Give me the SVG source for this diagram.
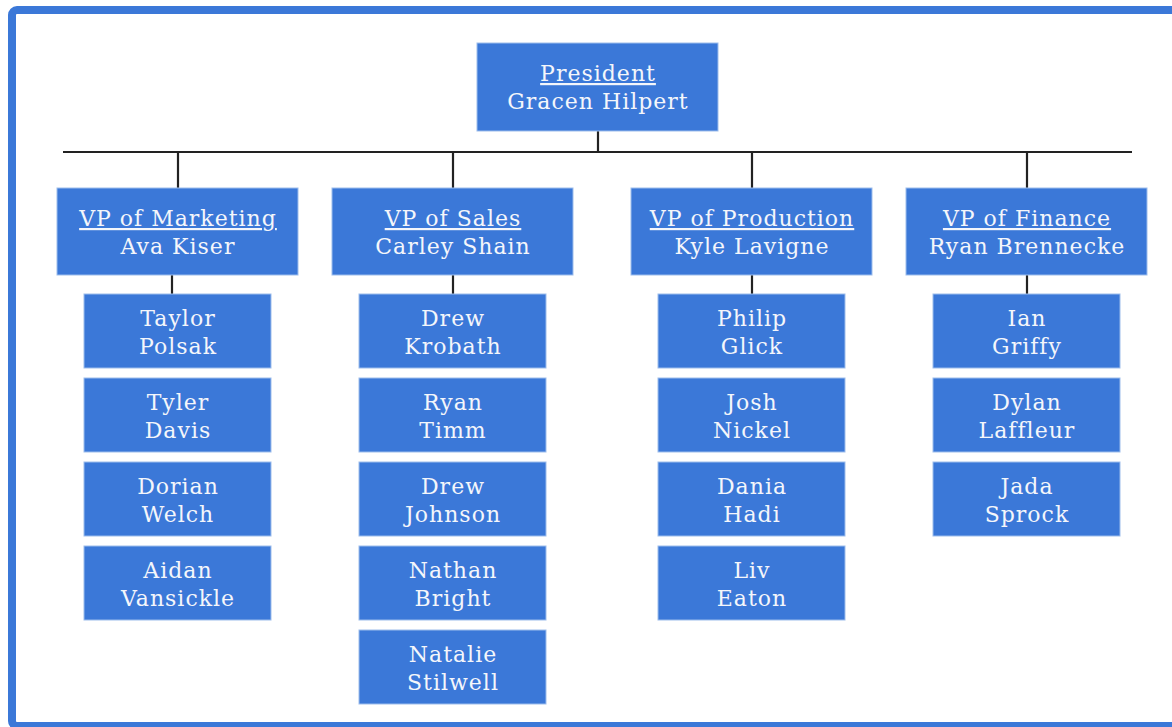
<svg xmlns="http://www.w3.org/2000/svg" width="1172" height="727" viewBox="0 0 1172 727">
<style>
.box{fill:#3b78d8;stroke:#9dbdec;stroke-width:1}
.t{font-family:"DejaVu Serif","Liberation Serif",serif;font-size:22px;letter-spacing:1px;fill:#f4f6fb;text-anchor:middle}
.u{text-decoration:underline}
.c{stroke:#222;stroke-width:2.2;fill:none}
</style>
<rect x="0" y="0" width="1172" height="727" fill="#fff"/>
<rect x="12" y="10" width="1200" height="716" rx="5" fill="none" stroke="#3b78d8" stroke-width="8"/>
<g id="connectors">
<path class="c" d="M598 131V152M63 152H1132M178 152V188M453 152V188M752 152V188M1027 152V188M172 275V294M453 275V294M752 275V294M1027 275V294"/>
</g>
<g id="president"><rect class="box" x="477" y="43" width="241" height="88"/><text class="t u" x="598" y="81">President</text><text class="t" x="598" y="109">Gracen Hilpert</text></g>
<g id="vp-marketing"><rect class="box" x="57" y="188" width="241" height="87"/><text class="t u" x="178" y="226">VP of Marketing</text><text class="t" x="178" y="254">Ava Kiser</text></g>
<g id="vp-sales"><rect class="box" x="332" y="188" width="241" height="87"/><text class="t u" x="453" y="226">VP of Sales</text><text class="t" x="453" y="254">Carley Shain</text></g>
<g id="vp-production"><rect class="box" x="631" y="188" width="241" height="87"/><text class="t u" x="752" y="226">VP of Production</text><text class="t" x="752" y="254">Kyle Lavigne</text></g>
<g id="vp-finance"><rect class="box" x="906" y="188" width="241" height="87"/><text class="t u" x="1027" y="226">VP of Finance</text><text class="t" x="1027" y="254">Ryan Brennecke</text></g>

<g id="taylor-polsak"><rect class="box" x="84" y="294" width="187" height="74"/><text class="t" x="178" y="326">Taylor</text><text class="t" x="178" y="354">Polsak</text></g>
<g id="tyler-davis"><rect class="box" x="84" y="378" width="187" height="74"/><text class="t" x="178" y="410">Tyler</text><text class="t" x="178" y="438">Davis</text></g>
<g id="dorian-welch"><rect class="box" x="84" y="462" width="187" height="74"/><text class="t" x="178" y="494">Dorian</text><text class="t" x="178" y="522">Welch</text></g>
<g id="aidan-vansickle"><rect class="box" x="84" y="546" width="187" height="74"/><text class="t" x="178" y="578">Aidan</text><text class="t" x="178" y="606">Vansickle</text></g>

<g id="drew-krobath"><rect class="box" x="359" y="294" width="187" height="74"/><text class="t" x="453" y="326">Drew</text><text class="t" x="453" y="354">Krobath</text></g>
<g id="ryan-timm"><rect class="box" x="359" y="378" width="187" height="74"/><text class="t" x="453" y="410">Ryan</text><text class="t" x="453" y="438">Timm</text></g>
<g id="drew-johnson"><rect class="box" x="359" y="462" width="187" height="74"/><text class="t" x="453" y="494">Drew</text><text class="t" x="453" y="522">Johnson</text></g>
<g id="nathan-bright"><rect class="box" x="359" y="546" width="187" height="74"/><text class="t" x="453" y="578">Nathan</text><text class="t" x="453" y="606">Bright</text></g>
<g id="natalie-stilwell"><rect class="box" x="359" y="630" width="187" height="74"/><text class="t" x="453" y="662">Natalie</text><text class="t" x="453" y="690">Stilwell</text></g>

<g id="philip-glick"><rect class="box" x="658" y="294" width="187" height="74"/><text class="t" x="752" y="326">Philip</text><text class="t" x="752" y="354">Glick</text></g>
<g id="josh-nickel"><rect class="box" x="658" y="378" width="187" height="74"/><text class="t" x="752" y="410">Josh</text><text class="t" x="752" y="438">Nickel</text></g>
<g id="dania-hadi"><rect class="box" x="658" y="462" width="187" height="74"/><text class="t" x="752" y="494">Dania</text><text class="t" x="752" y="522">Hadi</text></g>
<g id="liv-eaton"><rect class="box" x="658" y="546" width="187" height="74"/><text class="t" x="752" y="578">Liv</text><text class="t" x="752" y="606">Eaton</text></g>

<g id="ian-griffy"><rect class="box" x="933" y="294" width="187" height="74"/><text class="t" x="1027" y="326">Ian</text><text class="t" x="1027" y="354">Griffy</text></g>
<g id="dylan-laffleur"><rect class="box" x="933" y="378" width="187" height="74"/><text class="t" x="1027" y="410">Dylan</text><text class="t" x="1027" y="438">Laffleur</text></g>
<g id="jada-sprock"><rect class="box" x="933" y="462" width="187" height="74"/><text class="t" x="1027" y="494">Jada</text><text class="t" x="1027" y="522">Sprock</text></g>
</svg>
